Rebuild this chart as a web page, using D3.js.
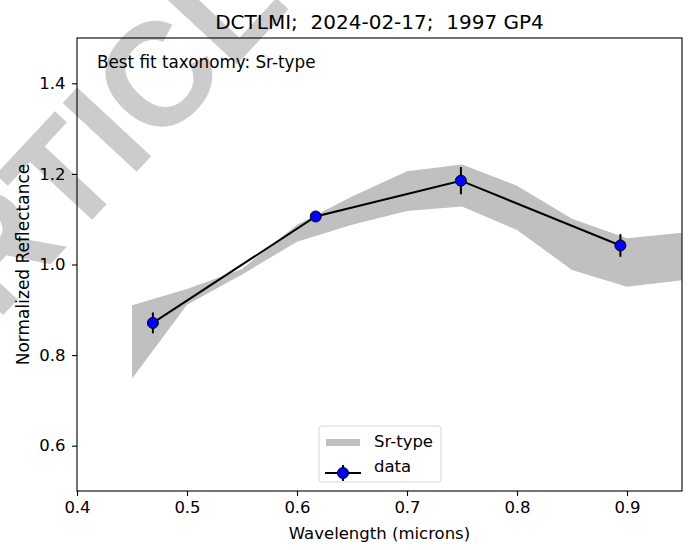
<!DOCTYPE html>
<html lang="en">
<head>
<meta charset="UTF-8">
<title>1997 GP4</title>
<script src="https://cdn.jsdelivr.net/npm/d3@7"></script>
<style>
  body { margin: 0; background: #fff; }
  text { font-family: "DejaVu Sans", sans-serif; fill: #000; white-space: pre; }
</style>
</head>
<body>
<script>

    // Sr-type template band (Bus-DeMeo style), upper / lower envelope
    var bandWave  = [0.45, 0.50, 0.55, 0.60, 0.65, 0.70, 0.75, 0.80, 0.85, 0.90, 0.95];
    var bandUpper = [0.910, 0.946, 0.990, 1.088, 1.150, 1.206, 1.221, 1.174, 1.101, 1.058, 1.070];
    var bandLower = [0.748, 0.911, 0.978, 1.050, 1.088, 1.118, 1.128, 1.076, 0.988, 0.951, 0.965];

    // measured reflectance
    var dataWave = [0.469, 0.617, 0.749, 0.894];
    var dataRefl = [0.871, 1.106, 1.185, 1.042];
    var dataErr  = [0.023, 0.008, 0.030, 0.025];

    var xTicks = [0.4, 0.5, 0.6, 0.7, 0.8, 0.9];
    var yTicks = [0.6, 0.8, 1.0, 1.2, 1.4];

    var width = 692, height = 550;
    var mLeft = 77, mRight = 682, mTop = 38, mBottom = 491;

    var svg = d3.select("body").append("svg")
        .attr("width", width)
        .attr("height", height);

    // watermark
    svg.append("text")
        .attr("transform", "translate(-76,400) rotate(-47)")
        .style("font-family", "Liberation Sans")
        .style("font-size", "147px")
        .style("font-weight", "bold")
        .style("fill", "#cccccc")
        .text("ARTICLE");

    var x = d3.scaleLinear().domain([0.4, 0.95]).range([mLeft, mRight]);
    var y = d3.scaleLinear().domain([0.5, 1.5]).range([mBottom, mTop]);

    svg.append("clipPath").attr("id", "clip")
        .append("rect")
        .attr("x", mLeft).attr("y", mTop)
        .attr("width", mRight - mLeft).attr("height", mBottom - mTop);

    var plot = svg.append("g").attr("clip-path", "url(#clip)");

    // band
    var band = bandWave.map(function(w, i){ return { w: w, hi: bandUpper[i], lo: bandLower[i] }; });
    var area = d3.area()
        .x(function(d){ return x(d.w); })
        .y0(function(d){ return y(d.lo); })
        .y1(function(d){ return y(d.hi); });
    plot.append("path")
        .datum(band)
        .attr("d", area)
        .style("fill", "#c0c0c0");

    // data
    var pts = dataWave.map(function(w, i){ return { w: w, r: dataRefl[i], e: dataErr[i] }; });

    plot.selectAll(".err")
        .data(pts)
        .enter()
        .append("line")
        .attr("class", "err")
        .attr("x1", function(d){ return x(d.w); })
        .attr("x2", function(d){ return x(d.w); })
        .attr("y1", function(d){ return y(d.r - d.e); })
        .attr("y2", function(d){ return y(d.r + d.e); })
        .style("stroke", "#000")
        .style("stroke-width", 2);

    var line = d3.line()
        .x(function(d){ return x(d.w); })
        .y(function(d){ return y(d.r); });
    plot.append("path")
        .datum(pts)
        .attr("d", line)
        .style("fill", "none")
        .style("stroke", "#000")
        .style("stroke-width", 2);

    plot.selectAll(".pt")
        .data(pts)
        .enter()
        .append("circle")
        .attr("class", "pt")
        .attr("cx", function(d){ return x(d.w); })
        .attr("cy", function(d){ return y(d.r); })
        .attr("r", 5.5)
        .style("fill", "#0000ff")
        .style("stroke", "#000")
        .style("stroke-width", 1);

    // axes
    var xAxis = d3.axisBottom(x).tickValues(xTicks).tickSize(5).tickPadding(5)
        .tickFormat(d3.format(".1f"));
    var yAxis = d3.axisLeft(y).tickValues(yTicks).tickSize(5).tickPadding(6.5)
        .tickFormat(d3.format(".1f"));

    var gx = svg.append("g")
        .attr("transform", "translate(0," + mBottom + ")")
        .call(xAxis);
    var gy = svg.append("g")
        .attr("transform", "translate(" + mLeft + ",0)")
        .call(yAxis);
    [gx, gy].forEach(function(g){
        g.select(".domain").remove();
        g.selectAll("line").style("stroke", "#000").style("stroke-width", 1.1);
        g.selectAll("text").style("font-size", "16.5px").style("font-family", "DejaVu Sans").style("fill", "#000");
    });

    svg.append("rect")
        .attr("x", mLeft).attr("y", mTop)
        .attr("width", mRight - mLeft).attr("height", mBottom - mTop)
        .style("fill", "none")
        .style("stroke", "#000")
        .style("stroke-width", 1.1);

    // titles
    svg.append("text")
        .attr("x", (mLeft + mRight) / 2).attr("y", 29)
        .attr("text-anchor", "middle")
        .style("font-size", "20px")
        .text("DCTLMI;  2024-02-17;  1997 GP4");

    svg.append("text")
        .attr("x", (mLeft + mRight) / 2).attr("y", 539)
        .attr("text-anchor", "middle")
        .style("font-size", "16.5px")
        .text("Wavelength (microns)");

    svg.append("text")
        .attr("transform", "translate(29," + ((mTop + mBottom) / 2) + ") rotate(-90)")
        .attr("text-anchor", "middle")
        .style("font-size", "17px")
        .text("Normalized Reflectance");

    svg.append("text")
        .attr("x", 97).attr("y", 68)
        .style("font-size", "16.8px")
        .text("Best fit taxonomy: Sr-type");

    // legend
    var lg = svg.append("g").attr("transform", "translate(319,426)");
    lg.append("rect")
        .attr("width", 122).attr("height", 56)
        .attr("rx", 3)
        .style("fill", "#fff").style("fill-opacity", 0.8)
        .style("stroke", "#d6d6d6").style("stroke-width", 1);
    lg.append("rect")
        .attr("x", 7).attr("y", 13).attr("width", 34).attr("height", 7)
        .style("fill", "#c0c0c0");
    lg.append("text").attr("x", 55).attr("y", 21).style("font-size", "16.5px").text("Sr-type");
    lg.append("line").attr("x1", 6).attr("x2", 42).attr("y1", 47).attr("y2", 47)
        .style("stroke", "#000").style("stroke-width", 2);
    lg.append("line").attr("x1", 24).attr("x2", 24).attr("y1", 39).attr("y2", 55)
        .style("stroke", "#000").style("stroke-width", 2);
    lg.append("circle").attr("cx", 24).attr("cy", 47).attr("r", 5.5)
        .style("fill", "#0000ff").style("stroke", "#000").style("stroke-width", 1);
    lg.append("text").attr("x", 55).attr("y", 46).style("font-size", "16.5px").text("data");

</script>
</body>
</html>
